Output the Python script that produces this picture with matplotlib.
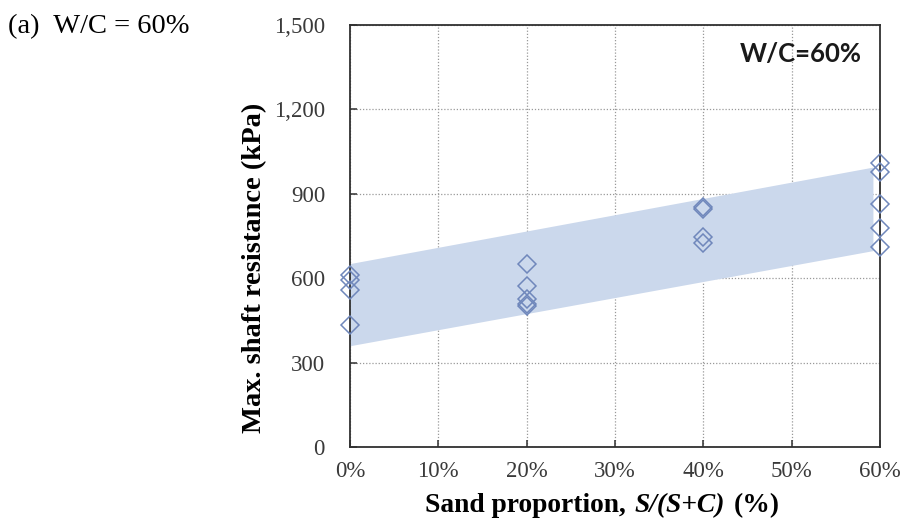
import matplotlib
matplotlib.use("Agg")
import matplotlib.pyplot as plt
from matplotlib.ticker import FuncFormatter, PercentFormatter

# Sand proportion S/(S+C) and measured max. shaft resistance (kPa)
sand_0 = [612, 595, 558, 432]
sand_20 = [652, 572, 527, 507, 500]
sand_40 = [852, 845, 745, 725]
sand_60 = [1008, 977, 864, 779, 711]
sand_levels = [0.0, 0.2, 0.4, 0.6]
groups = [sand_0, sand_20, sand_40, sand_60]

# Trend band (lower / upper bound at each end)
band_x = [0.0, 0.592]
band_lower = [360, 698]
band_upper = [652, 995]

y_ticks = [0, 300, 600, 900, 1200, 1500]
x_ticks = [0.0, 0.1, 0.2, 0.3, 0.4, 0.5, 0.6]

serif = ["Liberation Serif", "DejaVu Serif"]
tick_color = "#3a3a3a"
marker_color = "#6f87bb"

fig = plt.figure(figsize=(9.06, 5.21), dpi=100)
ax = fig.add_axes([350 / 906, 1 - 447 / 521, 530 / 906, 422 / 521])

ax.fill_between(band_x, band_lower, band_upper, color="#cbd8ec", lw=0, zorder=1)

for x, vals in zip(sand_levels, groups):
    ax.plot([x] * len(vals), vals, ls="none", marker="D", ms=8.8,
            mfc="none", mec=marker_color, mew=1.1, zorder=3, clip_on=False)

ax.set_xlim(0, 0.6)
ax.set_ylim(0, 1500)
ax.set_xticks(x_ticks)
ax.set_yticks(y_ticks)
ax.xaxis.set_major_formatter(PercentFormatter(1.0, decimals=0))
ax.yaxis.set_major_formatter(FuncFormatter(lambda v, p: f"{int(v):,}"))

ax.grid(True, ls=(0, (1, 1.5)), color="#999999", lw=0.9, zorder=0)
ax.set_axisbelow(True)
for s in ax.spines.values():
    s.set_color("#303030")
    s.set_linewidth(1.3)

ax.tick_params(axis="both", direction="in", length=5, width=1.1,
               colors="#303030", labelcolor=tick_color, labelsize=16.5)
ax.tick_params(axis="x", pad=10)
ax.tick_params(axis="y", pad=18)
for lab in ax.get_xticklabels() + ax.get_yticklabels():
    lab.set_family(serif)

ax.text(0.966, 0.931, "W/C=60%", transform=ax.transAxes, ha="right", va="center",
        fontsize=18.5, fontweight="bold", family=["Lato", "DejaVu Sans"], color="#1a1a1a")

fig.text(8 / 906, 1 - 33 / 521, "(a)  W/C = 60%", family=serif, fontsize=20.5,
         va="baseline", ha="left", color="black")

fig.text(255 / 906, 1 - 268 / 521, "Max. shaft resistance (kPa)", rotation=90,
         family=serif, fontsize=20.5, fontweight="bold", ha="center", va="center")

# x-axis label built from bold and bold-italic pieces
t1 = fig.text(425 / 906, 1 - 512 / 521, "Sand proportion,", family=serif,
              fontsize=19.8, fontweight="bold", ha="left", va="baseline")
t2 = plt.annotate("S/(S+C)", xy=(1, 0), xycoords=t1, xytext=(6.5, 0),
                  textcoords="offset points", family=serif, fontsize=19.8,
                  fontweight="bold", fontstyle="italic", ha="left", va="bottom",
                  annotation_clip=False)
t3 = plt.annotate("(%)", xy=(1, 0), xycoords=t2, xytext=(6.5, 0),
                  textcoords="offset points", family=serif, fontsize=19.8,
                  fontweight="bold", ha="left", va="bottom",
                  annotation_clip=False)

fig.savefig("out.png", dpi=100)
